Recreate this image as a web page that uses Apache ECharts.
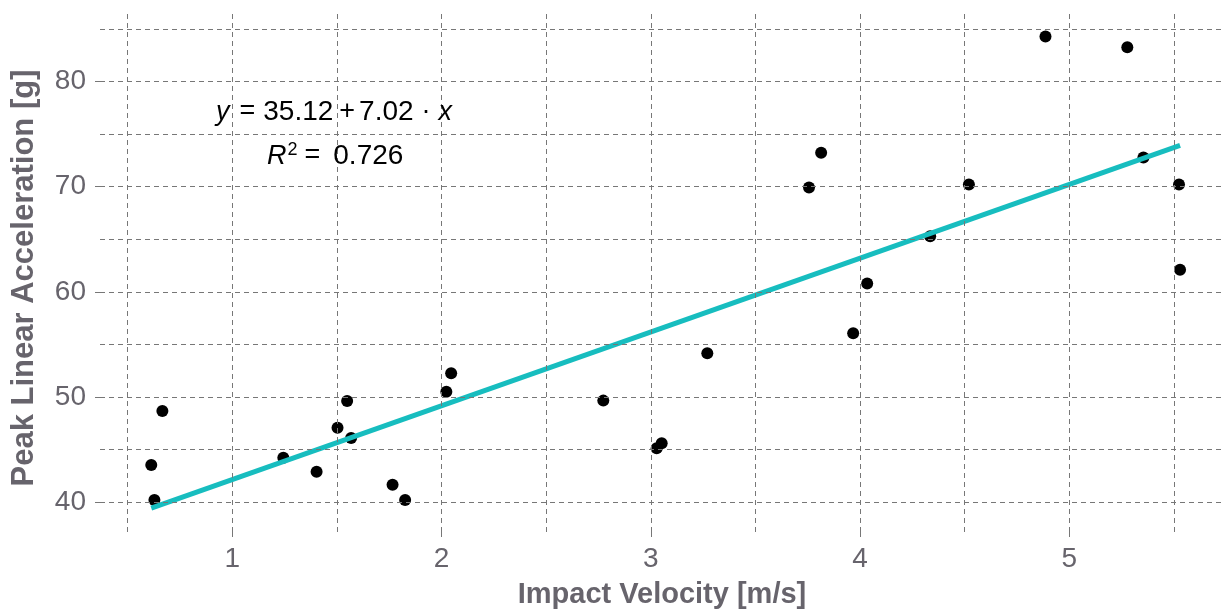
<!DOCTYPE html>
<html>
<head>
<meta charset="utf-8">
<script src="https://cdn.jsdelivr.net/npm/echarts@6/dist/echarts.min.js"></script>
<style>
  html, body { margin: 0; padding: 0; background: #ffffff; }
  #chart { width: 1225px; height: 610px; }
</style>
</head>
<body>
<div id="chart"></div>
<script>
// ---- data ----
const impactVelocity = [0.613, 0.628, 0.666, 1.244, 1.403, 1.503, 1.549, 1.568, 1.766, 1.826,
  2.023, 2.046, 2.773, 3.028, 3.052, 3.270, 3.967, 3.756, 3.814, 4.034,
  4.335, 4.520, 4.886, 5.277, 5.354, 5.524, 5.529];
const peakAccel = [43.52, 40.19, 48.67, 44.22, 42.89, 47.08, 49.62, 46.10, 41.65, 40.19,
  50.50, 52.26, 49.65, 45.11, 45.59, 54.16, 56.07, 69.93, 73.24, 60.79,
  65.30, 70.22, 84.29, 83.27, 72.79, 70.22, 62.10];
const fitIntercept = 35.12;
const fitSlope = 7.02;
const rSquared = 0.726;
const xTickLabels = [1, 2, 3, 4, 5];
const yTickLabels = [40, 50, 60, 70, 80];
const xGridValues = [0.5, 1, 1.5, 2, 2.5, 3, 3.5, 4, 4.5, 5, 5.5];
const yGridValues = [40, 45, 50, 55, 60, 65, 70, 75, 80, 85];
const xLabel = 'Impact Velocity [m/s]';
const yLabel = 'Peak Linear Acceleration [g]';

// ---- build ----
const points = impactVelocity.map((v, i) => [v, peakAccel[i]]);
const xMinData = Math.min(...impactVelocity);
const xMaxData = Math.max(...impactVelocity);
const fitLine = [
  [xMinData, fitIntercept + fitSlope * xMinData],
  [xMaxData, fitIntercept + fitSlope * xMaxData]
];

const FONT = '"Liberation Sans", Arial, sans-serif';
const TEXT_GREY = '#67646c';
const GRID_GREY = '#777777';
const dash = [5, 4];

const gridMarkLines = [
  ...xGridValues.map(v => ({ xAxis: v })),
  ...yGridValues.map(v => ({ yAxis: v }))
];

const eqFont = 27;
const chart = echarts.init(document.getElementById('chart'), null, { renderer: 'canvas' });
chart.setOption({
  backgroundColor: '#ffffff',
  animation: false,
  grid: { left: 100, right: 1, top: 13, bottom: 78, containLabel: false, outerBoundsMode: 'none' },
  xAxis: {
    type: 'value',
    min: 0.368,
    max: 5.739,
    name: xLabel,
    nameLocation: 'middle',
    nameGap: 48,
    nameTextStyle: { fontFamily: FONT, fontSize: 29, fontWeight: 'bold', color: TEXT_GREY },
    axisLine: { show: false },
    axisTick: { show: true, length: 7, customValues: xTickLabels,
      lineStyle: { color: GRID_GREY, width: 1, type: dash } },
    axisLabel: { customValues: xTickLabels, margin: 13, fontFamily: FONT, fontSize: 28, color: TEXT_GREY,
      formatter: v => String(v) },
    splitLine: { show: false }
  },
  yAxis: {
    type: 'value',
    min: 37.15,
    max: 86.53,
    axisLine: { show: false },
    axisTick: { show: true, length: 7, customValues: yTickLabels,
      lineStyle: { color: GRID_GREY, width: 1, type: dash } },
    axisLabel: { customValues: yTickLabels, margin: 14, fontFamily: FONT, fontSize: 28, color: TEXT_GREY,
      formatter: v => String(v) },
    splitLine: { show: false }
  },
  series: [
    {
      name: 'gridlines',
      type: 'line',
      data: [],
      z: 1,
      silent: true,
      markLine: {
        silent: true,
        symbol: ['none', 'none'],
        label: { show: false },
        emphasis: { disabled: true },
        lineStyle: { color: GRID_GREY, width: 1, type: dash },
        data: gridMarkLines
      }
    },
    {
      name: 'points',
      type: 'scatter',
      data: points,
      symbol: 'circle',
      symbolSize: 12,
      itemStyle: { color: '#000000', opacity: 1 },
      z: 3
    },
    {
      name: 'fit',
      type: 'line',
      data: fitLine,
      showSymbol: false,
      symbol: 'none',
      lineStyle: { color: '#17BDBF', width: 5 },
      z: 4
    }
  ],
  graphic: [
    {
      type: 'text',
      x: 24,
      y: 278,
      rotation: Math.PI / 2,
      z: 10,
      style: {
        text: yLabel,
        fontFamily: FONT,
        fontSize: 31,
        fontWeight: 'bold',
        fill: TEXT_GREY,
        align: 'center',
        verticalAlign: 'middle'
      }
    },
    {
      type: 'text',
      left: 216,
      top: 98,
      z: 10,
      style: {
        text: '{i|y}{op|=}{n|35.12}{pl|+}{n|7.02}{dot|·}{i|x}',
        fontFamily: FONT,
        fontSize: eqFont,
        fill: '#000000',
        rich: {
          i: { fontFamily: FONT, fontSize: eqFont, fontStyle: 'italic', fill: '#000000' },
          n: { fontFamily: FONT, fontSize: eqFont + 1, fill: '#000000' },
          op: { fontFamily: FONT, fontSize: eqFont, fill: '#000000', padding: [0, 8, 0, 10] },
          pl: { fontFamily: FONT, fontSize: eqFont, fill: '#000000', padding: [0, 4, 0, 6] },
          dot: { fontFamily: FONT, fontSize: eqFont, fill: '#000000', padding: [0, 8, 0, 8] }
        }
      }
    },
    {
      type: 'text',
      left: 267,
      top: 141,
      z: 10,
      style: {
        text: '{i|R}{sup|2}{op|=}{n|' + rSquared.toFixed(3) + '}',
        fontFamily: FONT,
        fontSize: eqFont,
        fill: '#000000',
        rich: {
          i: { fontFamily: FONT, fontSize: eqFont, fontStyle: 'italic', fill: '#000000' },
          n: { fontFamily: FONT, fontSize: eqFont + 1, fill: '#000000' },
          sup: { fontFamily: FONT, fontSize: 18, fill: '#000000', padding: [0, 0, 12, 1] },
          op: { fontFamily: FONT, fontSize: eqFont, fill: '#000000', padding: [0, 13, 0, 7] }
        }
      }
    }
  ]
});
</script>
</body>
</html>
